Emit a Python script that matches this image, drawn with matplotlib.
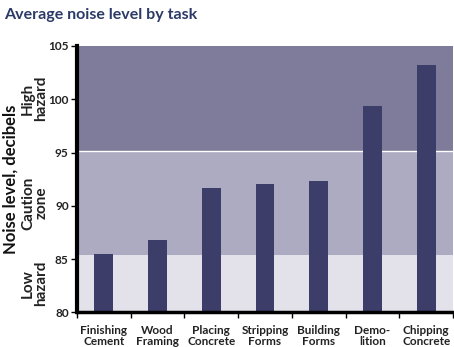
import matplotlib
matplotlib.use("Agg")
import matplotlib.pyplot as plt

tasks = ["Finishing\nCement", "Wood\nFraming", "Placing\nConcrete", "Stripping\nForms",
         "Building\nForms", "Demo-\nlition", "Chipping\nConcrete"]
noise_db = [85.5, 86.75, 91.7, 92.0, 92.3, 99.4, 103.2]

# hazard zones
zone_edges = [80, 85.4, 95.15, 105]
zone_labels = ["Low\nhazard", "Caution\nzone", "High\nhazard"]
zone_colors = ["#e3e2ea", "#acabc2", "#7e7c9a"]

plt.rcParams['font.family'] = ['Lato', 'DejaVu Sans']

fig = plt.figure(figsize=(4.54, 3.47), dpi=100)
ax = fig.add_axes([77 / 454, 34.7 / 347, 376 / 454, 266.3 / 347])

for lo, hi, col in zip(zone_edges[:-1], zone_edges[1:], zone_colors):
    ax.axhspan(lo, hi, color=col, lw=0, zorder=0)
ax.axhline(zone_edges[2], color="white", lw=1, zorder=1)

x = range(len(tasks))
ax.bar(x, [v - 80 for v in noise_db], bottom=80, width=0.35, color="#3c3d68", zorder=2)

ax.set_xlim(-0.5, len(tasks) - 0.5)
ax.set_ylim(80, 105)
yt = [80, 85, 90, 95, 100, 105]
ax.set_yticks(yt)
ax.set_yticklabels([str(v) for v in yt], fontsize=8.5, fontweight="bold", color="#222222")
ax.set_xticks([i - 0.5 for i in range(len(tasks) + 1)])
ax.set_xticklabels([])
ax.set_xticks(list(x), minor=True)
ax.set_xticklabels(tasks, minor=True, fontsize=8.5, fontweight="bold", color="#222222",
                   linespacing=1.05)
ax.tick_params(axis="x", which="minor", length=0, pad=9)
ax.tick_params(axis="x", which="major", length=4, width=1, direction="out")
ax.tick_params(axis="y", length=4, width=1, direction="out", pad=2)

for s in ["top", "right"]:
    ax.spines[s].set_visible(False)
ax.spines["left"].set_linewidth(3)
ax.spines["bottom"].set_linewidth(2.5)

for lo, hi, lab in zip(zone_edges[:-1], zone_edges[1:], zone_labels):
    ax.text(-0.112, (lo + hi) / 2, lab, transform=ax.get_yaxis_transform(),
            rotation=90, ha="center", va="center", fontsize=11, fontweight="bold",
            color="#222222", linespacing=0.95, clip_on=False)

fig.text(11 / 454, 1 - 179 / 347, "Noise level, decibels", rotation=90, ha="center",
         va="center", fontsize=12, fontweight="bold", color="#111111")
fig.text(4 / 454, 1 - 15 / 347, "Average noise level by task", ha="left", va="center",
         fontsize=11.5, fontweight="bold", color="#2b3a67")

fig.savefig("out.png", dpi=100)
